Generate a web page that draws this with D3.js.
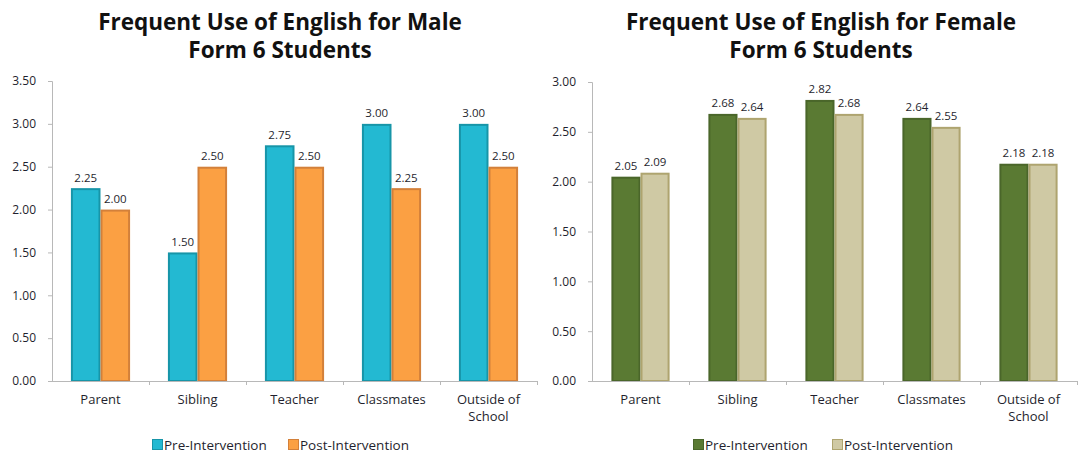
<!DOCTYPE html>
<html>
<head>
<meta charset="utf-8">
<script src="https://cdn.jsdelivr.net/npm/d3@7/dist/d3.min.js"></script>
<style>
  html, body { margin: 0; padding: 0; background: #fff; }
  svg { display: block; }
  text { font-family: "Open Sans", Lato, sans-serif; }
</style>
</head>
<body>
<svg id="chart" width="1078" height="456"></svg>
<script>
// Categories shared by both panels
const categories = ["Parent", "Sibling", "Teacher", "Classmates", "Outside of School"];
const seriesNames = ["Pre-Intervention", "Post-Intervention"];

// Male Form 6 students
const malePre  = [2.25, 1.50, 2.75, 3.00, 3.00];
const malePost = [2.00, 2.50, 2.50, 2.25, 2.50];
const maleTicks = [0, 0.5, 1.0, 1.5, 2.0, 2.5, 3.0, 3.5];

// Female Form 6 students
const femalePre  = [2.05, 2.68, 2.82, 2.64, 2.18];
const femalePost = [2.09, 2.64, 2.68, 2.55, 2.18];
const femaleTicks = [0, 0.5, 1.0, 1.5, 2.0, 2.5, 3.0];

const svg = d3.select("#chart");
const ink = "#1f1f2e";
const axisGrey = "#b8b8b8";

function drawPanel(cfg) {
  const g = svg.append("g");

  // Two-line title
  cfg.title.forEach((line, i) => {
    g.append("text")
      .attr("x", cfg.titleX).attr("y", 29.5 + i * 28.5)
      .attr("text-anchor", "middle")
      .style("font-size", "22.5px").style("font-weight", "bold").attr("fill", "#111")
      .text(line);
  });

  const y = d3.scaleLinear().domain([0, cfg.max]).range([cfg.bottom, cfg.top]);
  const x = d3.scaleBand().domain(categories).range([cfg.left, cfg.right])
    .paddingInner(cfg.pad).paddingOuter(cfg.pad / 2);
  const xs = d3.scaleBand().domain(seriesNames).range([0, x.bandwidth()]);

  // Y axis
  const yAxis = g.append("g")
    .attr("transform", `translate(${cfg.left},0)`)
    .call(d3.axisLeft(y).tickValues(cfg.ticks).tickFormat(d3.format(".2f")).tickSize(4).tickPadding(12));
  yAxis.select(".domain").attr("stroke", axisGrey);
  yAxis.selectAll(".tick line").attr("stroke", axisGrey);
  yAxis.selectAll(".tick text").attr("fill", ink).style("font-size", "12px")
    .style("font-family", "'Open Sans', sans-serif");

  // Bars
  const rows = categories.map((c, i) => ({ c, vals: [cfg.pre[i], cfg.post[i]] }));
  const grp = g.selectAll(".grp").data(rows).join("g")
    .attr("transform", d => `translate(${x(d.c)},0)`);
  grp.selectAll("rect").data(d => d.vals.map((v, k) => ({ v, k })))
    .join("rect")
      .attr("x", d => xs(seriesNames[d.k]) + 1)
      .attr("y", d => y(d.v) + 1)
      .attr("width", xs.bandwidth() - 2)
      .attr("height", d => y(0) - y(d.v) - 1)
      .attr("fill", d => cfg.fills[d.k])
      .attr("stroke", d => cfg.strokes[d.k])
      .attr("stroke-width", 2);

  // Value labels
  grp.selectAll("text.val").data(d => d.vals.map((v, k) => ({ v, k })))
    .join("text")
      .attr("class", "val")
      .attr("x", d => xs(seriesNames[d.k]) + xs.bandwidth() / 2)
      .attr("y", d => y(d.v) - 6.5)
      .attr("text-anchor", "middle")
      .style("font-size", "11.5px").attr("fill", ink)
      .text(d => d3.format(".2f")(d.v));

  // X axis line with category boundary ticks
  g.append("line")
    .attr("x1", cfg.left - 4).attr("x2", cfg.right)
    .attr("y1", cfg.bottom + 0.5).attr("y2", cfg.bottom + 0.5)
    .attr("stroke", axisGrey);
  const bounds = d3.range(1, categories.length + 1).map(i => cfg.left + i * x.step());
  g.selectAll(".xt").data(bounds).join("line")
    .attr("x1", d => Math.round(d) + 0.5).attr("x2", d => Math.round(d) + 0.5)
    .attr("y1", cfg.bottom).attr("y2", cfg.bottom + 4)
    .attr("stroke", axisGrey);

  // Category labels (long names wrap)
  const labelLines = { "Outside of School": ["Outside of", "School"] };
  g.selectAll(".cat").data(categories).join("text")
    .attr("class", "cat")
    .attr("text-anchor", "middle")
    .attr("y", cfg.bottom + 23)
    .style("font-size", "13px").attr("fill", ink)
    .selectAll("tspan").data(c => (labelLines[c] || [c]).map(t => ({ c, t })))
    .join("tspan")
      .attr("x", d => x(d.c) + x.bandwidth() / 2)
      .attr("dy", (d, i) => i === 0 ? 0 : 17)
      .text(d => d.t);

  // Legend
  const lg = g.append("g").attr("transform", `translate(${cfg.legendX},${cfg.bottom + 69})`);
  const items = lg.selectAll("g").data(seriesNames).join("g")
    .attr("transform", (d, i) => `translate(${cfg.legendOffsets[i]},0)`);
  items.append("rect")
    .attr("x", 0.5).attr("y", -10.5).attr("width", 10).attr("height", 10)
    .attr("fill", (d, i) => cfg.fills[i]).attr("stroke", (d, i) => cfg.strokes[i]);
  items.append("text")
    .attr("x", 12).attr("y", 0)
    .style("font-size", "13.5px").attr("fill", ink)
    .text(d => d);
}

drawPanel({
  title: ["Frequent Use of English for Male", "Form 6 Students"],
  titleX: 280,
  left: 52, right: 537, top: 81, bottom: 381, max: 3.5, ticks: maleTicks,
  pad: 0.39,
  pre: malePre, post: malePost,
  fills: ["#23b9d2", "#fba043"], strokes: ["#1795a8", "#d3803a"],
  legendX: 152, legendOffsets: [0, 136]
});

drawPanel({
  title: ["Frequent Use of English for Female", "Form 6 Students"],
  titleX: 821,
  left: 592, right: 1077, top: 82, bottom: 381, max: 3.0, ticks: femaleTicks,
  pad: 0.4,
  pre: femalePre, post: femalePost,
  fills: ["#5a7a33", "#cfc9a4"], strokes: ["#4a662a", "#aea46f"],
  legendX: 693, legendOffsets: [0, 139]
});
</script>
</body>
</html>
